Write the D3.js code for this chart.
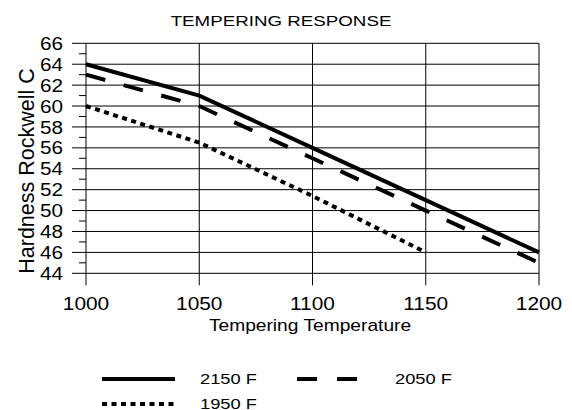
<!DOCTYPE html>
<html>
<head>
<meta charset="utf-8">
<script src="https://cdn.jsdelivr.net/npm/d3@7"></script>
<style>
  body { margin: 0; background: #fff; }
  text { font-family: "Liberation Sans", Arial, sans-serif; fill: #000; }
</style>
</head>
<body>
<div id="chart"></div>
<script>
// Data
const temps = [1000, 1050, 1100, 1150, 1200];
const hard2150 = [64, 61, 56, 51, 46];
const hard2050 = [63, 60, 55, 50, 45];
const hard1950 = [60, 56.5, 51.4, 46];
const xTicks = [1000, 1050, 1100, 1150, 1200];
const yTicks = [44, 46, 48, 50, 52, 54, 56, 58, 60, 62, 64, 66];
const seriesNames = ["2150 F", "2050 F", "1950 F"];

const width = 572;
const height = 410;

const svg = d3
  .select("#chart")
  .append("svg")
  .attr("width", width)
  .attr("height", height);

const xScale = d3.scaleLinear().domain([1000, 1200]).range([86, 539]);
const yScale = d3.scaleLinear().domain([44, 66]).range([273.3, 43.3]);

// the original text is drawn a bit wider than Arial, so stretch it
function label(x, y, txt, size, sx, anchor) {
  return svg
    .append("text")
    .attr("transform", `translate(${x}, ${y}) scale(${sx}, 1)`)
    .attr("text-anchor", anchor || "start")
    .style("font-size", `${size}px`)
    .text(txt);
}

// Title
label(281, 25.7, "TEMPERING RESPONSE", 15, 1.25, "middle");

// Horizontal grid (extends left as major ticks)
svg
  .append("g")
  .selectAll("line")
  .data(yTicks)
  .enter()
  .append("line")
  .attr("x1", 72)
  .attr("x2", xScale(1200))
  .attr("y1", (d) => yScale(d))
  .attr("y2", (d) => yScale(d))
  .attr("stroke", "#000")
  .attr("stroke-width", 1);

// Minor ticks on the left at odd values
svg
  .append("g")
  .selectAll("line")
  .data(d3.range(45, 66, 2))
  .enter()
  .append("line")
  .attr("x1", 79)
  .attr("x2", xScale(1000))
  .attr("y1", (d) => yScale(d))
  .attr("y2", (d) => yScale(d))
  .attr("stroke", "#000")
  .attr("stroke-width", 1);

// Vertical grid (extends below as ticks)
svg
  .append("g")
  .selectAll("line")
  .data(xTicks)
  .enter()
  .append("line")
  .attr("x1", (d) => xScale(d))
  .attr("x2", (d) => xScale(d))
  .attr("y1", yScale(66))
  .attr("y2", yScale(44) + 12)
  .attr("stroke", "#000")
  .attr("stroke-width", 1);

// Tick labels
yTicks.forEach(function (d) {
  label(63, yScale(d) + 6.6, d, 18.5, 1.12, "end");
});

xTicks.forEach(function (d) {
  label(xScale(d), 310, d, 18.5, 1.13, "middle");
});

// Axis titles
label(310, 330.7, "Tempering Temperature", 16, 1.2, "middle");

svg
  .append("text")
  .attr("transform", "translate(34, 171) rotate(-90)")
  .attr("text-anchor", "middle")
  .style("font-size", "21.5px")
  .text("Hardness Rockwell C");

// Lines
const line = d3
  .line()
  .x((d) => xScale(d[0]))
  .y((d) => yScale(d[1]));

const dashes = [null, "20,19", "5,4.5"];
const series = [hard2150, hard2050, hard1950];

series.forEach(function (vals, i) {
  svg
    .append("path")
    .datum(vals.map((v, j) => [temps[j], v]))
    .attr("d", line)
    .attr("fill", "none")
    .attr("stroke", "#000")
    .attr("stroke-width", 4)
    .attr("stroke-dasharray", dashes[i]);
});

// Legend
const legendPos = [
  { x: 102, y: 379, tx: 200 },
  { x: 297, y: 379, tx: 395 },
  { x: 102, y: 404, tx: 200 },
];

seriesNames.forEach(function (name, i) {
  const p = legendPos[i];
  const len = i == 1 ? 60 : 73;
  svg
    .append("line")
    .attr("x1", p.x)
    .attr("x2", p.x + len)
    .attr("y1", p.y)
    .attr("y2", p.y)
    .attr("stroke", "#000")
    .attr("stroke-width", 4)
    .attr("stroke-dasharray", i == 1 ? "20,20" : dashes[i]);
  label(p.tx, p.y + 5.3, name, 15, 1.22);
});
</script>
</body>
</html>
